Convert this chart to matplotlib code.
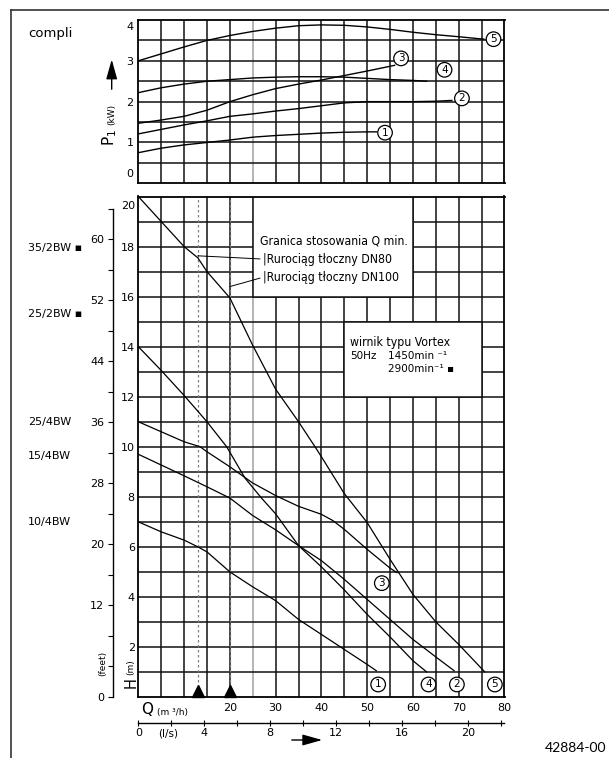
import os
import matplotlib
matplotlib.use("Agg")
import matplotlib.pyplot as plt
import matplotlib.transforms as mtransforms
from matplotlib import font_manager
from matplotlib.font_manager import FontProperties
from matplotlib.lines import Line2D
from matplotlib.patches import Rectangle, FancyArrowPatch

W, H = 609, 758

# power P1 (kW) vs Q (m3/h), curves 1..5
p_q1 = [0, 5, 10, 15, 20, 25, 30, 35, 40, 45, 50, 52]
p_1 = [0.75, 0.86, 0.94, 1.0, 1.06, 1.13, 1.17, 1.2, 1.23, 1.25, 1.26, 1.26]
p_q2 = [0, 5, 10, 15, 20, 25, 30, 35, 40, 45, 50, 55, 60, 65, 68.5]
p_2 = [1.21, 1.32, 1.43, 1.53, 1.64, 1.70, 1.77, 1.83, 1.90, 1.97, 2.0, 2.0, 2.0, 2.01, 2.03]
p_q3 = [0, 5, 10, 15, 20, 25, 30, 35, 40, 45, 50, 56]
p_3 = [1.47, 1.55, 1.64, 1.79, 2.0, 2.17, 2.32, 2.43, 2.53, 2.64, 2.75, 2.89]
p_q4 = [0, 5, 10, 15, 20, 25, 30, 35, 40, 45, 50, 55, 60, 63]
p_4 = [2.22, 2.34, 2.43, 2.5, 2.54, 2.58, 2.6, 2.61, 2.61, 2.6, 2.57, 2.54, 2.52, 2.5]
p_q5 = [0, 5, 10, 15, 20, 25, 30, 35, 40, 45, 50, 55, 60, 65, 70, 75.5]
p_5 = [3.0, 3.17, 3.34, 3.5, 3.62, 3.72, 3.8, 3.86, 3.88, 3.87, 3.83, 3.77, 3.7, 3.64, 3.59, 3.53]

# head H (m) vs Q (m3/h), curves 1..5
h_q1 = [0, 5, 10, 13, 15, 20, 25, 30, 35, 40, 45, 50, 52]
h_1 = [7.0, 6.6, 6.27, 6.0, 5.8, 5.0, 4.4, 3.85, 3.1, 2.5, 1.9, 1.3, 1.05]
h_q2 = [0, 5, 10, 15, 20, 25, 30, 35, 40, 45, 50, 55, 60, 65, 69]
h_2 = [9.7, 9.27, 8.84, 8.4, 7.95, 7.25, 6.68, 6.05, 5.45, 4.7, 3.9, 3.1, 2.3, 1.6, 1.05]
h_q3 = [0, 5, 10, 13.5, 15, 20, 25, 30, 35, 40, 42.5, 45, 50, 55, 56.5]
h_3 = [11.0, 10.6, 10.2, 10.0, 9.8, 9.2, 8.55, 8.05, 7.62, 7.3, 7.05, 6.7, 5.9, 5.15, 4.97]
h_q4 = [0, 5, 10, 15, 19.3, 23.3, 27, 30, 35, 40, 45, 50, 55, 60, 63]
h_4 = [14.0, 13.05, 12.05, 11.0, 10.0, 8.75, 7.93, 7.32, 6.05, 5.2, 4.28, 3.3, 2.4, 1.45, 1.0]
h_q5 = [0, 5, 10, 13, 15, 20, 25, 30, 35, 38.6, 40, 45, 50, 55, 60, 65, 70, 75.7]
h_5 = [20, 19, 18, 17.55, 17.0, 15.95, 14.05, 12.3, 11.0, 10.0, 9.6, 8.13, 6.97, 5.5, 4.1, 3.0, 2.1, 1.0]

curve_ids = ["1", "2", "3", "4", "5"]
p_lab_q = [53.9, 70.7, 57.4, 66.9, 77.6]
p_lab_v = [1.24, 2.08, 3.06, 2.78, 3.53]
h_lab_q = [52.4, 69.6, 53.2, 63.4, 77.9]
h_lab_v = [0.5, 0.5, 4.55, 0.5, 0.5]

q_min = [13, 20]  # Q min limits (DN80, DN100)

models = ["35/2BW \u25aa", "25/2BW \u25aa", "25/4BW", "15/4BW", "10/4BW"]
model_y = [248, 314, 422, 456, 522]

q_labels = [20, 30, 40, 50, 60, 70, 80]
h_labels = [2, 4, 6, 8, 10, 12, 14, 16, 18]
p_labels = [1, 2, 3]
ft_ticks = list(range(0, 65, 4))
ft_labels = [0, 12, 20, 28, 36, 44, 52, 60]
ls_ticks = list(range(0, 23, 2))
ls_labels = [0, 4, 8, 12, 16, 20]


def fx(px):
    return px / W


def fy(py):
    return 1 - py / H


def narrow_font():
    # look for a regular narrow/condensed face for the notes
    bad = ("bold", "italic", "oblique", "light", "thin", "black", "medium", "semi", "extra")
    sizes = [("liberationsansnarrow", 10.5), ("notosans", 9.5), ("dejavusans", 8.8),
             ("roboto", 9.5), ("opensans", 9.5), ("", 9.5)]
    files = [f.fname for f in font_manager.fontManager.ttflist]
    for key, size in sizes:
        for path in files:
            base = os.path.basename(path).lower().replace("-", "").replace("_", "")
            if ("narrow" in base or "condensed" in base) and base.startswith(key) \
                    and not any(b in base for b in bad):
                return FontProperties(fname=path, size=size)
    return FontProperties(family="DejaVu Sans", size=8)


box_font = narrow_font()

plt.rcParams["font.family"] = ["DejaVu Sans"]
fig = plt.figure(figsize=(W / 100, H / 100), dpi=100)

x0, x1 = 138.3, 504.5
ax1 = fig.add_axes([fx(x0), fy(183.3), (x1 - x0) / W, (183.3 - 20) / H])
ax2 = fig.add_axes([fx(x0), fy(697), (x1 - x0) / W, (697 - 196.5) / H])

GRID = "#111111"
for ax, ymax, ystep in [(ax1, 4, 0.5), (ax2, 20, 1)]:
    ax.set_xlim(0, 80)
    ax.set_ylim(0, ymax)
    for q in range(5, 80, 5):
        ax.axvline(q, color="#a0a0a0" if q == 25 else GRID, lw=1.1, zorder=0.5)
    v = ystep
    while v < ymax:
        ax.axhline(v, color=GRID, lw=1.1, zorder=0.5)
        v += ystep
    for s in ax.spines.values():
        s.set_linewidth(1.3)
    ax.tick_params(length=0, labelsize=8)

circle = dict(boxstyle="circle,pad=0.22", fc="white", ec="black", lw=0.9)

# power panel
for qq, vv in zip([p_q1, p_q2, p_q3, p_q4, p_q5], [p_1, p_2, p_3, p_4, p_5]):
    ax1.plot(qq, vv, color="black", lw=1.0, zorder=3)
for s, q, v in zip(curve_ids, p_lab_q, p_lab_v):
    ax1.text(q, v, s, ha="center", va="center", fontsize=7.5, bbox=circle, zorder=5)
ax1.set_xticks([])
ax1.set_yticks([0.25] + p_labels + [3.85], ["0"] + [str(p) for p in p_labels] + ["4"])
ax1.tick_params(axis="y", pad=3.5)

# head panel
ax2.add_patch(Rectangle((25, 16), 35, 4, fc="white", ec=GRID, lw=1.1, zorder=1))
ax2.add_patch(Rectangle((45, 12), 30, 3, fc="white", ec=GRID, lw=1.1, zorder=1))
for q in q_min:
    ax2.axvline(q, color="#808080", lw=0.9, ls=(0, (2, 2)), zorder=1.5)
trans = mtransforms.blended_transform_factory(ax2.transData, ax2.transAxes)
ax2.plot(q_min, [0.012] * len(q_min), marker="^", ls="none", ms=8.5,
         color="black", transform=trans, clip_on=False, zorder=4)

for qq, vv in zip([h_q1, h_q2, h_q3, h_q4, h_q5], [h_1, h_2, h_3, h_4, h_5]):
    ax2.plot(qq, vv, color="black", lw=0.9, zorder=3)
for s, q, v in zip(curve_ids, h_lab_q, h_lab_v):
    ax2.text(q, v, s, ha="center", va="center", fontsize=7.5, bbox=circle, zorder=5)

ax2.set_xticks(q_labels, [str(q) for q in q_labels])
ax2.set_yticks(h_labels + [19.65], [str(h) for h in h_labels] + ["20"])
ax2.tick_params(axis="x", pad=4.5)
ax2.tick_params(axis="y", pad=2.5)

# notes in the white boxes
ax2.text(26.5, 18.24, "Granica stosowania Q min.", va="center", zorder=6,
         fontproperties=box_font)
lead = dict(arrowstyle="-", lw=0.7, color="black", relpos=(0, 0.5), shrinkA=0, shrinkB=0)
ax2.annotate("|Rurociąg tłoczny DN80", xy=(q_min[0], 17.63), xytext=(27.2, 17.5),
             va="center", arrowprops=lead, zorder=6, fontproperties=box_font)
ax2.annotate("|Rurociąg tłoczny DN100", xy=(q_min[1], 16.4), xytext=(27.2, 16.77),
             va="center", arrowprops=lead, zorder=6, fontproperties=box_font)
ax2.text(46.25, 14.17, "wirnik typu Vortex", va="center", zorder=6, fontproperties=box_font)
ax2.text(46.25, 13.62, "50Hz", va="center", fontsize=7.5, zorder=6)
ax2.text(54.5, 13.62, "1450min \u207b\u00b9", va="center", fontsize=7.5, zorder=6)
ax2.text(54.5, 13.09, "2900min\u207b\u00b9 \u25aa", va="center", fontsize=7.5, zorder=6)

# l/s scale under the Q axis
sec = ax2.secondary_xaxis(-(722.7 - 697) / (697 - 196.5),
                          functions=(lambda q: q / 3.6, lambda l: l * 3.6))
sec.set_xticks(ls_ticks, [str(t) if t in ls_labels else "" for t in ls_ticks])
sec.tick_params(direction="inout", length=4, width=0.8, labelsize=8, pad=1.5)
sec.spines["bottom"].set_linewidth(1.0)

# feet scale
axf = fig.add_axes([fx(113.3), fy(697), 0.0005, (697 - 196.5) / H])
axf.set_ylim(0, 20 / 0.3048)
for s in ["top", "right", "bottom"]:
    axf.spines[s].set_visible(False)
axf.spines["left"].set_bounds(0, 64)
axf.spines["left"].set_linewidth(1.0)
axf.patch.set_visible(False)
axf.set_xticks([])
axf.set_yticks(ft_ticks, [str(t) if t in ft_labels else "" for t in ft_ticks])
axf.tick_params(axis="y", direction="out", length=3.5, width=0.8, pad=3, labelsize=8)

# labels and texts
fig.text(fx(28), fy(33), "compli", fontsize=9.5, va="center")
for name, y in zip(models, model_y):
    fig.text(fx(28), fy(y), name, fontsize=8, va="center")
fig.text(fx(110), fy(137), r"$\mathregular{P_1}$", rotation=90, fontsize=11,
         ha="center", va="center")
fig.text(fx(112), fy(114.5), "(kW)", rotation=90, fontsize=6.5, ha="center", va="center")
fig.text(fx(103), fy(663), "(feet)", rotation=90, fontsize=6.5, ha="center", va="center")
fig.text(fx(131), fy(683), "H", rotation=90, fontsize=10.5, ha="center", va="center")
fig.text(fx(131), fy(667), "(m)", rotation=90, fontsize=6.5, ha="center", va="center")
fig.text(fx(147.6), fy(710), "Q", fontsize=11, ha="center", va="center")
fig.text(fx(157), fy(713), "(m \u00b3/h)", fontsize=6.5, ha="left", va="center")
fig.text(fx(168), fy(733), "(l/s)", fontsize=7.5, ha="center", va="center")
fig.text(fx(606), fy(748), "42884-00", fontsize=10, ha="right", va="center",
         family=["Lato", "DejaVu Sans"])

arrow = "-|>,head_length=1.0,head_width=0.28"
fig.add_artist(FancyArrowPatch((fx(111.7), fy(92)), (fx(111.7), fy(56.7)),
                               transform=fig.transFigure, arrowstyle=arrow,
                               mutation_scale=12, lw=1.0, color="black"))
fig.add_artist(FancyArrowPatch((fx(289), fy(740)), (fx(325), fy(740)),
                               transform=fig.transFigure, arrowstyle=arrow,
                               mutation_scale=12, lw=1.0, color="black"))

# page frame
fig.add_artist(Line2D([fx(10.5), fx(10.5)], [fy(10), 0], transform=fig.transFigure,
                      color="#333333", lw=1.2))
fig.add_artist(Line2D([fx(10.5), 1], [fy(10), fy(10)], transform=fig.transFigure,
                      color="#333333", lw=1.2))

fig.savefig("out.png", dpi=100)
